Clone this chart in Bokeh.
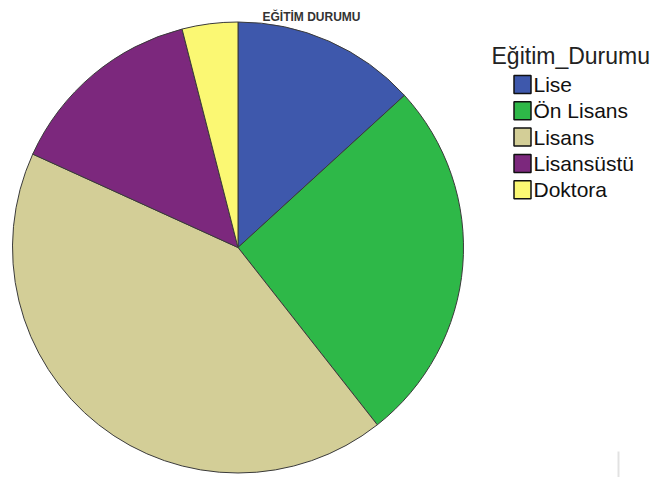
import math
from bokeh.plotting import figure
from bokeh.models import Range1d, ColumnDataSource
from bokeh.core.properties import value
from bokeh.embed import file_html
from bokeh.resources import INLINE

# Data
categories = ["Lise", "Ön Lisans", "Lisans", "Lisansüstü", "Doktora"]
counts = [53, 105, 170, 57, 16]
colors = ["#3E58AC", "#2EB848", "#D3CE97", "#7C287D", "#FBF873"]
chart_title = "EĞİTİM DURUMU"
legend_title = "Eğitim_Durumu"

W, H = 669, 477
p = figure(width=W, height=H, output_backend="svg", toolbar_location=None,
           x_range=Range1d(0, W), y_range=Range1d(0, H),
           x_axis_location=None, y_axis_location=None, min_border=0)
p.grid.visible = False
p.outline_line_color = None
p.background_fill_color = "white"
p.border_fill_color = "white"

def Y(py):
    return H - py

total = sum(counts)
starts, ends = [], []
cum = 0
for c in counts:
    starts.append(math.pi / 2 - 2 * math.pi * cum / total)
    cum += c
    ends.append(math.pi / 2 - 2 * math.pi * cum / total)

src = ColumnDataSource(dict(cat=categories, start=starts, end=ends, color=colors))
cx, cy, r = 237.5, Y(247), 225.5
p.wedge(x=cx, y=cy, radius=r, start_angle="start", end_angle="end",
        direction="clock", fill_color="color", line_color="#3a3a3a",
        line_width=1, source=src)

# Title
p.text(x=[311], y=[Y(16)], text=[chart_title], text_font=value("Liberation Sans"),
       text_font_size="12px", text_font_style="bold", text_color="#333333",
       text_align="center", text_baseline="alphabetic")

# Legend
p.text(x=[491], y=[Y(55)], text=[legend_title], text_font=value("Liberation Sans"),
       text_font_size="23px", text_color="#222222", text_align="left",
       text_baseline="alphabetic")
item_y = [Y(84 + 26.3 * i) for i in range(len(categories))]
lsrc = ColumnDataSource(dict(x=[522] * len(categories), y=item_y, color=colors,
                             tx=[533] * len(categories), cat=categories))
p.rect(x="x", y="y", width=17, height=18, fill_color="color",
       line_color="#111111", line_width=1.5, source=lsrc)
p.text(x="tx", y="y", text="cat", text_font=value("Liberation Sans"),
       text_font_size="21px", text_color="#111111", text_align="left",
       text_baseline="middle", source=lsrc)

# faint artifact line
p.segment(x0=[618], y0=[Y(451)], x1=[618], y1=[Y(477)], line_color="#e2e2e2", line_width=2)

open("out.html", "w").write(file_html(p, INLINE))
